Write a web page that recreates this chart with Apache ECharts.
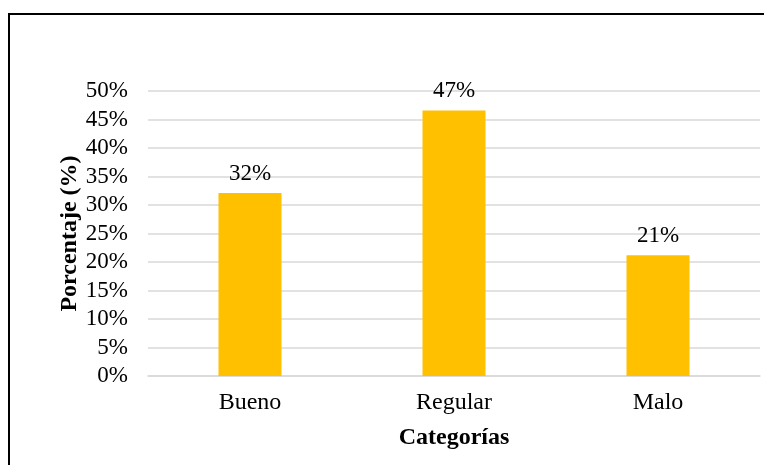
<!DOCTYPE html>
<html>
<head>
<meta charset="utf-8">
<script src="https://cdn.jsdelivr.net/npm/echarts@6/dist/echarts.min.js"></script>
<style>html,body{margin:0;padding:0;background:#fff}#c{width:764px;height:465px}</style>
</head>
<body>
<div id="c"></div>
<script>
const categories = ["Bueno", "Regular", "Malo"];
const values = [32.1, 46.6, 21.2];
const yTicks = [0, 5, 10, 15, 20, 25, 30, 35, 40, 45, 50];
const xAxisTitle = "Categorías";
const yAxisTitle = "Porcentaje (%)";

const font = "'Liberation Serif','Times New Roman',serif";
const chart = echarts.init(document.getElementById('c'), null, {renderer: 'canvas'});
chart.setOption({
  animation: false,
  backgroundColor: '#fff',
  graphic: [{
    type: 'rect', silent: true,
    shape: {x: 9, y: 14, width: 900, height: 600},
    style: {fill: 'none', stroke: '#000', lineWidth: 2}
  }],
  grid: {left: 148, right: 4, top: 91, bottom: 89, containLabel: false},
  xAxis: {
    type: 'category',
    data: categories,
    name: xAxisTitle,
    nameLocation: 'middle',
    nameGap: 50,
    nameMoveOverlap: false,
    nameTextStyle: {fontFamily: font, fontSize: 24, fontWeight: 'bold', color: '#000'},
    axisLine: {show: true, lineStyle: {color: '#D9D9D9', width: 1.5}},
    axisTick: {show: false},
    axisLabel: {fontFamily: font, fontSize: 24, color: '#000', margin: 15}
  },
  yAxis: {
    type: 'value',
    min: yTicks[0],
    max: yTicks[yTicks.length - 1],
    interval: yTicks[1] - yTicks[0],
    name: yAxisTitle,
    nameLocation: 'middle',
    nameGap: 66,
    nameMoveOverlap: false,
    nameRotate: 90,
    nameTextStyle: {fontFamily: font, fontSize: 24, fontWeight: 'bold', color: '#000'},
    axisLine: {show: false},
    axisTick: {show: false},
    splitLine: {show: true, lineStyle: {color: '#D9D9D9', width: 1.5}},
    axisLabel: {fontFamily: font, fontSize: 23, color: '#000', margin: 20, formatter: v => v + '%'}
  },
  series: [{
    type: 'bar',
    data: values,
    barWidth: 63,
    itemStyle: {color: '#FFC000'},
    label: {
      show: true, position: 'top', distance: 8,
      fontFamily: font, fontSize: 23, color: '#000',
      formatter: p => Math.round(p.value) + '%'
    }
  }]
});
</script>
</body>
</html>
